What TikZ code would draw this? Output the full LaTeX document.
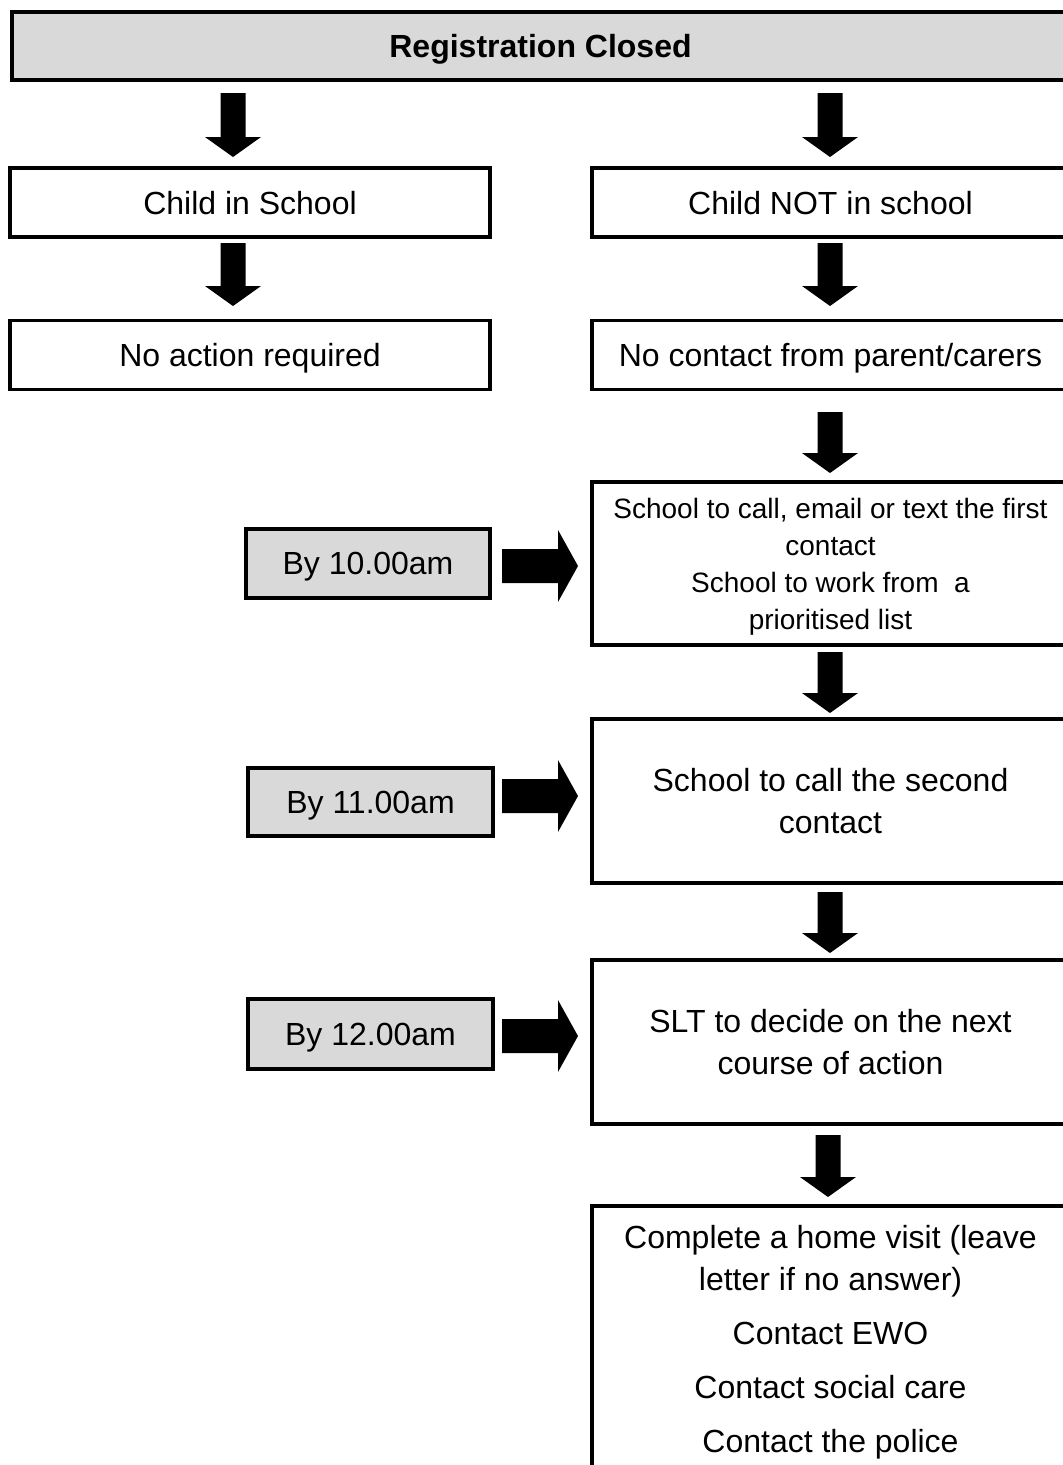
\documentclass[tikz,border=0pt]{standalone}
\usepackage{fontspec}
\setmainfont{Liberation Sans}
\definecolor{boxgray}{HTML}{D9D9D9}
\newcommand{\dnarrow}[3]{%
  \fill[black] ({#1-12.5},#2) -- ({#1+12.5},#2) -- ({#1+12.5},{#3-20}) -- ({#1+28},{#3-20}) -- (#1,#3) -- ({#1-28},{#3-20}) -- ({#1-12.5},{#3-20}) -- cycle;}
\newcommand{\rtarrow}[1]{%
  \fill[black] (502,{#1-17}) -- (558,{#1-17}) -- (558,{#1-36}) -- (578,#1) -- (558,{#1+36}) -- (558,{#1+17}) -- (502,{#1+17}) -- cycle;}
\begin{document}
\begin{tikzpicture}[x=1pt,y=-1pt,
  box/.style={draw=black, line width=3.5pt, fill=white, align=center, inner sep=0pt,
    font=\fontsize{32}{42}\selectfont},
  gbox/.style={box, fill=boxgray},
  one/.style={text depth=0pt},
  lbox/.style={box, one, minimum width=480pt, minimum height=69pt},
  rbox/.style={box, minimum width=477pt},
  tbox/.style={gbox, one, minimum width=244pt, minimum height=69pt}]
\useasboundingbox (0,0) rectangle (1063,1465);
\clip (0,0) rectangle (1063,1465);
\fill[white] (0,0) rectangle (1063,1465);

\node[gbox, one, line width=4pt, minimum width=1057pt, minimum height=68pt, font=\fontsize{32}{42}\selectfont\bfseries] (hdr) at (540.5,46) {Registration Closed};

\node[lbox] (cis) at (250,202.5) {Child in School};
\node[rbox, one, minimum height=69pt] (cnis) at (830.5,202.5) {Child NOT in school};
\node[lbox] (nar) at (250,355) {No action required};
\node[rbox, one, minimum height=69pt] (ncp) at (830.5,355) {No contact from parent/carers};

\node[rbox, one, minimum height=163pt, font=\fontsize{28}{37}\selectfont] (fst) at (830.5,563.5)
  {School to call, email or text the first\\contact\\School to work from\ \ a\\prioritised list};
\node[tbox] (b10) at (368,563.5) {By 10.00am};

\node[rbox, minimum height=164pt] (snd) at (830.5,801) {School to call the second\\contact};
\node[tbox, minimum width=245pt, minimum height=68pt] (b11) at (370.5,802) {By 11.00am};

\node[rbox, minimum height=164pt] (slt) at (830.5,1042) {SLT to decide on the next\\course of action};
\node[tbox, minimum width=245pt, minimum height=70pt] (b12) at (370.5,1034) {By 12.00am};

\node[rbox, minimum height=272pt] (fin) at (830.5,1342)
  {Complete a home visit (leave\\letter if no answer)\\[12pt]Contact EWO\\[12pt]Contact social care\\[12pt]Contact the police};

\dnarrow{233}{93}{157}
\dnarrow{830}{93}{157}
\dnarrow{233}{243}{306}
\dnarrow{830}{243}{306}
\dnarrow{830}{412}{473}
\dnarrow{830}{652}{713}
\dnarrow{830}{892}{953}
\dnarrow{828}{1135}{1197}

\rtarrow{566}
\rtarrow{796}
\rtarrow{1036}
\end{tikzpicture}
\end{document}
